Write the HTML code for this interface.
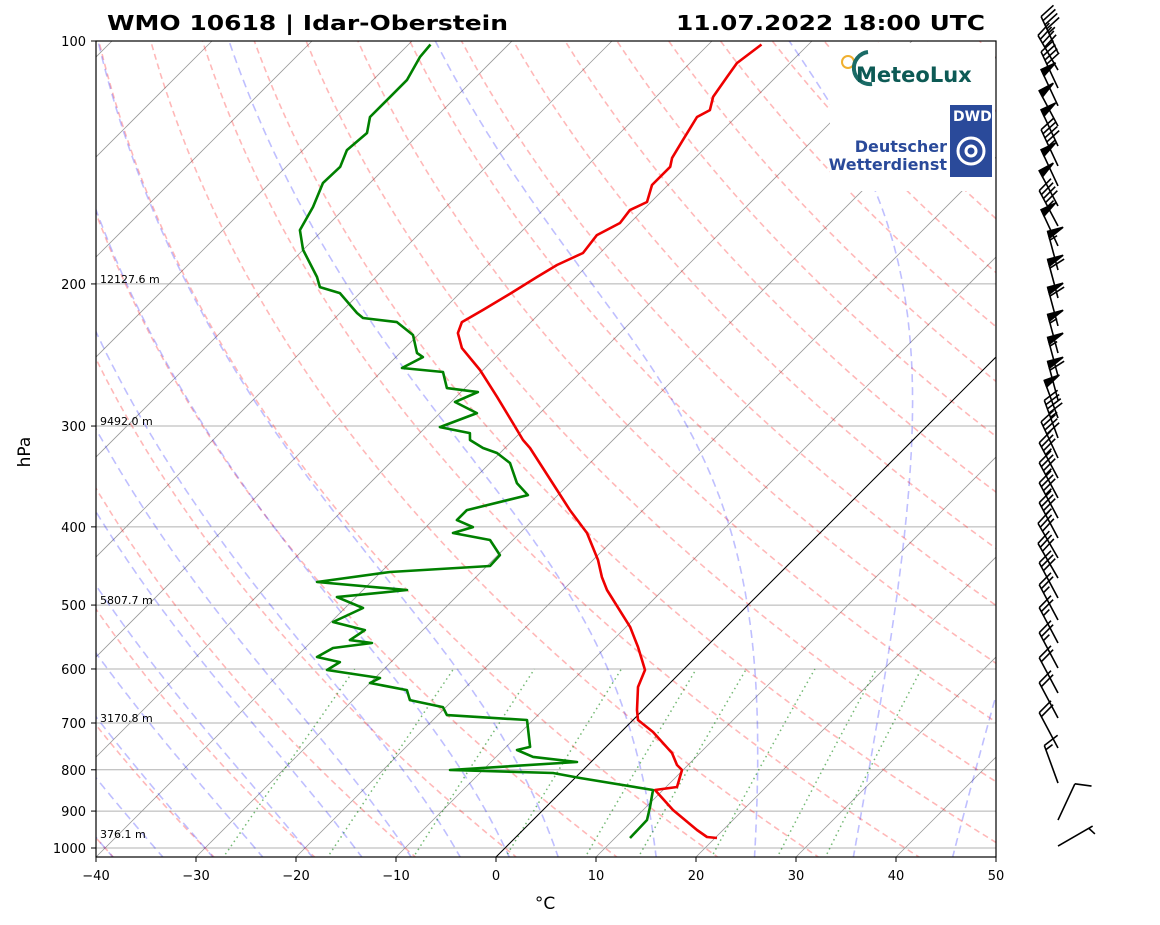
<!DOCTYPE html>
<html><head><meta charset="utf-8"><style>
html,body{margin:0;padding:0;background:#fff}
svg{display:block;font-family:"DejaVu Sans","Liberation Sans",sans-serif}
</style></head><body>
<svg id="chart" width="1160" height="925" viewBox="0 0 1160 925" xmlns="http://www.w3.org/2000/svg">
<defs><clipPath id="plotclip"><rect x="96" y="41" width="900" height="816"/></clipPath></defs>
<rect width="1160" height="925" fill="#fff"/>
<text x="107" y="30" font-size="20" font-weight="bold" textLength="401" lengthAdjust="spacingAndGlyphs">WMO 10618 | Idar-Oberstein</text>
<text x="676" y="30" font-size="20" font-weight="bold" textLength="309" lengthAdjust="spacingAndGlyphs">11.07.2022 18:00 UTC</text>
<g id="bg" clip-path="url(#plotclip)"></g>
<g id="data" clip-path="url(#plotclip)"></g>
<g>
<rect x="830" y="43" width="165" height="148" fill="#fff"/>
<g>
<circle cx="848" cy="62" r="6" fill="none" stroke="#f0b030" stroke-width="2"/>
<path d="M868 52 A16 16 0 1 0 872 84" fill="none" stroke="#1a6b66" stroke-width="4"/>
<text x="856" y="82" font-size="21" font-weight="bold" fill="#0d5a55">MeteoLux</text>
</g>
<g>
<rect x="950" y="105" width="42" height="72" fill="#2a4a9a"/>
<text x="953" y="121" font-size="14" font-weight="bold" fill="#fff">DWD</text>
<circle cx="971" cy="151" r="13" fill="none" stroke="#fff" stroke-width="3"/>
<circle cx="971" cy="151" r="5" fill="none" stroke="#fff" stroke-width="3"/>
<text x="947" y="152" font-size="16" font-weight="bold" fill="#2a4a9a" text-anchor="end">Deutscher</text>
<text x="947" y="170" font-size="16" font-weight="bold" fill="#2a4a9a" text-anchor="end">Wetterdienst</text>
</g>
</g>
<rect x="96" y="41" width="900" height="816" fill="none" stroke="#000" stroke-width="1.2"/>
<g id="axes"></g>
<g id="barbs"></g>
<text x="30" y="452" font-size="17" text-anchor="middle" transform="rotate(-90 30 452)">hPa</text>
<text x="545" y="909" font-size="17" text-anchor="middle">°C</text>
</svg>
<script>
// ---- data ----
const tempP = [101,106.5,110.8,117.3,121.8,124.2,132.7,139.6,143.2,150.8,158.3,162,168.1,174,183.1,189.5,196.1,204.6,215.4,223,230.1,240.2,255.7,276.1,297.5,312.2,319.4,360.1,381.3,407.1,439.7,461.6,479,532.2,563.5,584.8,601.7,631.6,674.5,694.1,718.3,762.6,789.1,800.4,840.2,847.4,897.3,950,969.2,971.9];
const tempT = [-54.7,-55.3,-54.9,-54.3,-53.3,-53.9,-53.0,-52.3,-51.6,-51.6,-50.4,-51.3,-51.0,-52.1,-51.7,-53.1,-53.9,-54.8,-56.0,-56.9,-56.2,-54.3,-50.3,-45.9,-41.7,-39.0,-37.5,-30.6,-27.3,-23.3,-19.5,-17.4,-15.6,-9.6,-6.8,-5.1,-3.8,-2.8,-0.6,0.5,3.2,7.2,8.9,9.9,11.1,9.2,13.0,17.4,19.1,20.2];
const dewP = [101,104.7,111.8,117.3,124.2,130,136.5,143.2,150,160.6,171.5,181.5,196.1,201.8,205.3,217.3,220.4,223,231.4,243.6,246.4,254.2,257.1,269.2,272.3,280.1,289.1,300.9,306.1,312.2,319.4,324,333.4,353,365.3,381.3,392.4,400.3,407.1,415.3,433.5,447.3,455,468.2,479,488.7,504.2,524.8,537,552.5,557.2,565.2,579.9,588.3,601.7,615.6,624.5,637.2,655.7,669,684.4,694.1,749.5,756,771.2,782.3,800.4,807.4,819,847.4,889.7,923.3,971.9];
const dewT = [-87.8,-87.6,-86.6,-86.6,-86.6,-85.3,-85.6,-84.6,-84.7,-83.3,-82.3,-80.0,-75.9,-74.6,-72.0,-68.3,-67.2,-63.4,-60.5,-58.3,-57.3,-58.3,-53.8,-51.8,-48.3,-49.6,-46.3,-48.6,-45.0,-44.3,-42.2,-40.3,-38.0,-35.3,-33.0,-37.6,-37.6,-35.3,-36.7,-32.3,-29.8,-29.7,-39.1,-45.4,-35.6,-41.9,-38.2,-39.8,-35.8,-36.3,-33.8,-37.2,-37.9,-35.1,-35.6,-29.5,-30.0,-25.6,-24.3,-20.3,-19.1,-10.6,-7.6,-8.6,-6.3,-1.4,-13.3,-2.7,0.5,9.0,10.4,11.4,11.5];
const pTicks = [100,200,300,400,500,600,700,800,900,1000];
const tTicks = [-40,-30,-20,-10,0,10,20,30,40,50];
const heightP = [200,300,500,700,975];
const heightLabels = ["12127.6 m","9492.0 m","5807.7 m","3170.8 m","376.1 m"];
const barbP = [101.1,106.2,111.8,117.6,124.6,131.9,139.6,147.8,156.5,165.7,175.4,187.9,203.5,220.4,238.1,254.2,272.3,286.6,303.4,321.3,340.2,360.1,381.3,403.6,427.3,452.5,479,510,544.5,584.8,628.1,674.5,734.8,812.1,902.5,971.9];
const barbSpd = [45,40,45,50,50,50,45,50,50,45,50,55,60,60,55,55,60,50,45,40,35,35,35,35,30,30,30,25,25,25,20,20,20,15,10,5];
const barbDir = [335,330,335,335,332,335,335,335,332,332,335,345,345,345,345,345,345,340,340,335,332,332,332,332,330,330,332,332,332,332,332,332,332,340,25,60];
const thetaStarts = [-40,-30,-20,-10,0,10,20,30,40,50,60,70,80,90,100,110,120,130,140,150,160,170,180,190,200];
const moistStarts = [-50,-45,-40,-35,-30,-25,-20,-15,-10,-5,0,5,15,25,35,45];
const mixRatios = [0.0004,0.001,0.002,0.004,0.007,0.01,0.016,0.024,0.032];

// ---- axes ----
const NS='http://www.w3.org/2000/svg';
const Y = p => 41 + 807*Math.log10(p/100);
const X = (T,p) => 96 + (T+40)*10 + (857 - Y(p));
function mk(tag, attrs, parent){const e=document.createElementNS(NS,tag);for(const k in attrs)e.setAttribute(k,attrs[k]);parent.appendChild(e);return e;}
const bg=document.getElementById('bg'), dg=document.getElementById('data'), ax=document.getElementById('axes'), bb=document.getElementById('barbs');
function pathFrom(Ts,Ps){return Ts.map((t,i)=>(i?'L':'M')+X(t,Ps[i]).toFixed(1)+' '+Y(Ps[i]).toFixed(1)).join(' ');}

pTicks.forEach(p=>{
  const l=mk('line',{x1:96,x2:996,y1:Y(p),y2:Y(p),stroke:'#b0b0b0','stroke-width':1},bg);
  
  
});
for(let T=-150;T<=50;T+=10){
  const l=mk('line',{x1:X(T,1026),y1:857,x2:X(T,100),y2:41,stroke:'#999','stroke-width':0.8},bg);
  
  
}
const pLevels=[];for(let p=1030;p>=98;p-=5)pLevels.push(p);
thetaStarts.forEach(t0=>{
  const th=t0+273.15;
  const Ts=pLevels.map(p=>th*Math.pow(p/1000,0.2857)-273.15);
  const e=mk('path',{d:pathFrom(Ts,pLevels),fill:'none',stroke:'rgba(255,0,0,0.28)','stroke-width':1.6,'stroke-dasharray':'6,4'},bg);
  
  
});
function dTdp(T,p){const Tk=T+273.15;const es=6.112*Math.exp(17.67*T/(T+243.5));const rs=0.622*es/(p-es);
  return (287.04*Tk+2.501e6*rs)/(p*(1005.7+2.501e6*2.501e6*rs*0.622/(287.04*Tk*Tk)));}
moistStarts.forEach(t0=>{
  const up=[],pu=[];let T=t0;
  for(let p=1000;p>=98;p-=2){up.push(T);pu.push(p);const k1=dTdp(T,p),k2=dTdp(T-k1,p-1),k3=dTdp(T-k2,p-1),k4=dTdp(T-2*k3,p-2);T-=2*(k1+2*k2+2*k3+k4)/6;}
  const dn=[],pd=[];T=t0;
  for(let p=1000;p<=1030;p+=2){dn.unshift(T);pd.unshift(p);T+=2*dTdp(T,p);}
  const Ts=dn.concat(up.slice(1)),Ps=pd.concat(pu.slice(1));
  const e=mk('path',{d:pathFrom(Ts,Ps),fill:'none',stroke:'rgba(0,0,255,0.25)','stroke-width':1.6,'stroke-dasharray':'8,5'},bg);
  
  
});
mixRatios.forEach(w=>{
  const Ps=[],Ts=[];
  for(let p=1030;p>=600;p-=10){const e=p*w/(0.622+w);const l=Math.log(e/6.112);Ts.push(243.5*l/(17.67-l));Ps.push(p);}
  const e=mk('path',{d:pathFrom(Ts,Ps),fill:'none',stroke:'rgba(0,128,0,0.55)','stroke-width':1.5,'stroke-dasharray':'1.5,3.5'},bg);
  
  
});
const zl=mk('line',{x1:X(0,1026),y1:857,x2:X(0,100),y2:41,stroke:'#000','stroke-width':1},bg);



const tp=mk('path',{d:pathFrom(tempT,tempP),fill:'none',stroke:'#e00','stroke-width':2.6,'stroke-linejoin':'round'},dg);


const dp=mk('path',{d:pathFrom(dewT,dewP),fill:'none',stroke:'#008000','stroke-width':2.6,'stroke-linejoin':'round'},dg);



heightP.forEach((p,i)=>{
  const t=mk('text',{x:100,y:Y(p)-1,'font-size':11},ax);t.textContent=heightLabels[i];
  
  
});
pTicks.forEach(p=>{
  const y=Y(p);
  const tk=mk('line',{x1:91,x2:96,y1:y,y2:y,stroke:'#000'},ax);
  
  
  const t=mk('text',{x:86,y:y+5,'font-size':13,'text-anchor':'end'},ax);t.textContent=p;
  
  
});
tTicks.forEach(T=>{
  const x=96+(T+40)*10;
  const tk=mk('line',{x1:x,x2:x,y1:857,y2:862,stroke:'#000'},ax);
  
  
  const t=mk('text',{x:x,y:880,'font-size':13,'text-anchor':'middle'},ax);t.textContent=(T<0?'\u2212'+(-T):T);
  
  
});

barbP.forEach((p,i)=>{
  const bx=1058, by=Y(p)+8, L=40, a=barbDir[i]*Math.PI/180;
  const ux=Math.sin(a), uy=-Math.cos(a);
  const tx=bx+ux*L, ty=by+uy*L;
  const nx=-uy, ny=ux;
  const g=mk('g',{stroke:'#000','stroke-width':1.6,fill:'#000'},bb);
  
  
  mk('line',{x1:bx,y1:by,x2:tx,y2:ty},g);
  let s=barbSpd[i], pos=0; const bl=16, sp=4.5;
  while(s>=50){const x0=tx-ux*pos,y0=ty-uy*pos,x1=tx-ux*(pos+7),y1=ty-uy*(pos+7);
    mk('polygon',{points:`${x0},${y0} ${x0+nx*bl},${y0+ny*bl} ${x1},${y1}`},g);pos+=9;s-=50;}
  while(s>=10){const x0=tx-ux*pos,y0=ty-uy*pos;mk('line',{x1:x0,y1:y0,x2:x0+nx*bl+ux*5,y2:y0+ny*bl+uy*5},g);pos+=sp;s-=10;}
  if(s>=5){if(pos===0)pos=sp;const x0=tx-ux*pos,y0=ty-uy*pos;mk('line',{x1:x0,y1:y0,x2:x0+nx*bl*0.5+ux*2.5,y2:y0+ny*bl*0.5+uy*2.5},g);}
});
</script>
</body></html>
